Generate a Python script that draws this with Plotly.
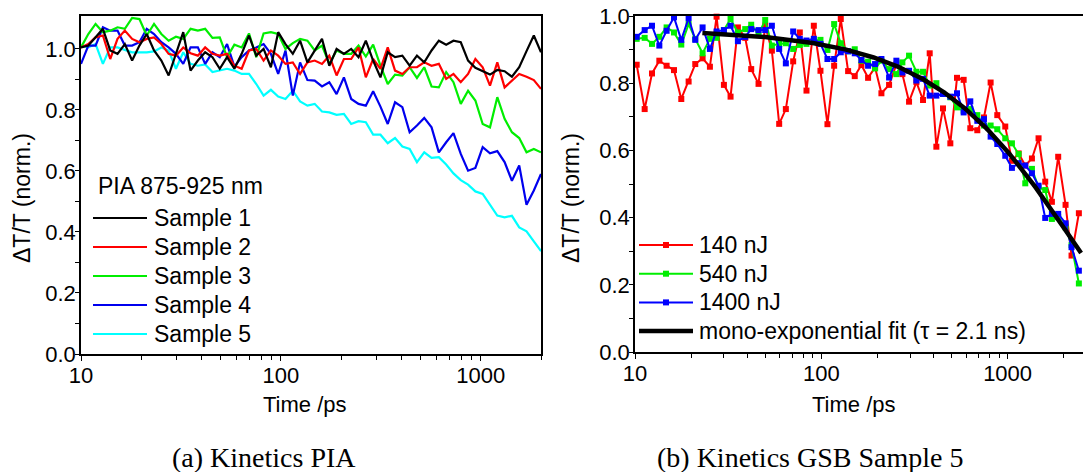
import numpy as np
import plotly.graph_objects as go

# ---------------- Panel (a): PIA kinetics, 875-925 nm ----------------
time_pia = [10.0, 10.88, 11.83, 12.87, 14.00, 15.23, 16.57, 18.02, 19.60, 21.32,
            23.19, 25.23, 27.44, 29.85, 32.47, 35.32, 38.42, 41.79, 45.46, 49.45,
            53.79, 58.51, 63.64, 69.23, 75.30, 81.91, 89.10, 96.9, 105.4, 114.7,
            124.7, 135.7, 147.6, 160.5, 174.6, 189.9, 206.6, 224.7, 244.5, 265.9,
            289.3, 314.7, 342.3, 372.3, 405.0, 440.5, 479.2, 521.2, 567.0, 616.7,
            670.9, 729.8, 793.8, 863.5, 939.3, 1021.8, 1111.4, 1209.0, 1315.1, 1430.6,
            1556.2, 1692.8, 1841.4, 2000.0]

sample1 = [1.005, 1.011, 1.038, 1.066, 0.995, 0.984, 1.016, 0.962, 1.011, 1.049,
           0.995, 0.962, 0.913, 0.984, 1.055, 0.929, 0.962, 0.989, 0.973, 0.935,
           0.973, 0.935, 0.984, 1.044, 0.978, 1.000, 0.940, 1.055, 1.016, 0.984,
           1.027, 0.956, 0.995, 1.033, 0.945, 1.000, 0.984, 1.000, 0.973, 1.027,
           0.962, 0.907, 0.989, 0.973, 0.978, 0.945, 0.978, 0.956, 0.995, 1.027,
           1.014, 1.027, 1.022, 0.962, 0.938, 0.927, 0.916, 0.931, 0.927, 0.909,
           0.940, 0.993, 1.044, 0.989]

sample2 = [1.005, 1.016, 1.038, 1.044, 0.967, 1.033, 1.060, 1.033, 1.022, 1.033,
           1.038, 1.016, 0.984, 0.978, 1.005, 0.986, 0.978, 1.005, 0.984, 0.978,
           0.984, 0.945, 0.935, 0.995, 1.000, 0.962, 0.995, 0.978, 0.951, 0.956,
           0.918, 0.956, 0.962, 0.951, 0.978, 0.913, 0.967, 0.967, 1.005, 0.907,
           0.967, 0.935, 1.005, 0.929, 0.918, 0.940, 0.940, 0.956, 0.945, 0.951,
           0.902, 0.918, 0.891, 0.918, 0.967, 0.940, 0.880, 0.956, 0.874, 0.896,
           0.918, 0.909, 0.898, 0.869]

sample3 = [1.005, 1.049, 1.082, 1.055, 1.060, 1.071, 1.066, 1.102, 1.098, 1.044,
           1.082, 1.049, 1.027, 1.040, 1.033, 1.066, 1.060, 1.066, 1.036, 1.038,
           0.973, 1.014, 1.005, 1.051, 0.973, 1.051, 1.055, 1.049, 1.000, 1.019,
           1.033, 1.027, 0.995, 1.011, 0.951, 0.995, 0.984, 0.984, 1.011, 0.975,
           1.014, 0.945, 0.885, 0.916, 0.913, 0.940, 0.905, 0.940, 0.877, 0.874,
           0.924, 0.891, 0.820, 0.863, 0.831, 0.754, 0.743, 0.842, 0.771, 0.727,
           0.708, 0.661, 0.672, 0.661]

sample4 = [0.951, 1.011, 1.011, 1.071, 1.060, 1.060, 1.011, 1.011, 1.022, 1.066,
           1.049, 1.022, 1.005, 0.984, 0.951, 1.005, 1.005, 0.951, 0.989, 0.973,
           1.016, 0.942, 0.973, 0.995, 1.005, 1.016, 0.984, 0.918, 0.995, 0.847,
           0.956, 0.898, 0.896, 0.877, 0.891, 0.852, 0.907, 0.836, 0.820, 0.814,
           0.861, 0.811, 0.754, 0.825, 0.809, 0.727, 0.749, 0.774, 0.743, 0.661,
           0.694, 0.724, 0.656, 0.601, 0.610, 0.678, 0.658, 0.665, 0.629, 0.568,
           0.618, 0.489, 0.536, 0.590]

sample5 = [1.011, 1.005, 1.016, 0.951, 1.005, 1.005, 0.997, 0.989, 0.989, 0.989,
           0.992, 1.005, 0.995, 0.935, 0.989, 0.951, 0.945, 0.949, 0.924, 0.929,
           0.935, 0.929, 0.918, 0.918, 0.885, 0.847, 0.866, 0.844, 0.836, 0.863,
           0.828, 0.814, 0.820, 0.795, 0.792, 0.784, 0.787, 0.754, 0.763, 0.760,
           0.719, 0.719, 0.691, 0.708, 0.680, 0.672, 0.629, 0.661, 0.643, 0.645,
           0.621, 0.592, 0.570, 0.555, 0.533, 0.525, 0.490, 0.454, 0.448, 0.453,
           0.415, 0.402, 0.369, 0.337]

pia_names = ["Sample 1", "Sample 2", "Sample 3", "Sample 4", "Sample 5"]
pia_colors = ["#000000", "#ff0000", "#00ee00", "#0000ee", "#00ffff"]

# ---------------- Panel (b): GSB kinetics of sample 5 ----------------
time_gsb = [10.21, 11.27, 12.34, 13.51, 14.78, 16.19, 17.72, 19.40, 21.06, 23.06,
            25.24, 27.41, 30.01, 32.58, 35.67, 39.05, 42.05, 46.04, 49.99, 54.29,
            59.42, 64.52, 70.63, 76.68, 83.27, 91.17, 98.97, 107.9, 117.2, 127.2,
            139.3, 151.2, 164.2, 178.3, 194.4, 210.2, 231.1, 252.9, 272.4, 295.8,
            323.9, 351.6, 381.8, 414.6, 450.1, 492.7, 535.0, 580.9, 630.6, 687.7,
            746.7, 810.7, 880.3, 971.6, 1055, 1146, 1244, 1351, 1466, 1592,
            1729, 1869, 2047, 2204, 2413]

gsb_140 = [0.855, 0.723, 0.829, 0.867, 0.852, 0.839, 0.753, 0.805, 0.857, 0.874,
           0.849, 0.998, 0.795, 0.760, 0.966, 0.935, 0.842, 0.798, 0.971, 0.897,
           0.679, 0.723, 0.865, 0.951, 0.778, 0.971, 0.837, 0.678, 0.852, 0.991,
           0.836, 0.821, 0.854, 0.816, 0.847, 0.770, 0.795, 0.856, 0.827, 0.745,
           0.803, 0.750, 0.889, 0.611, 0.725, 0.621, 0.816, 0.810, 0.666, 0.660,
           0.698, 0.802, 0.705, 0.671, 0.569, 0.591, 0.555, 0.576, 0.636, 0.507,
           0.447, 0.581, 0.438, 0.287, 0.413]

gsb_540 = [0.932, 0.935, 0.917, 0.938, 0.966, 0.951, 0.915, 0.976, 0.932, 0.889,
           0.932, 0.935, 0.958, 0.991, 0.951, 0.961, 0.974, 0.946, 0.988, 0.912,
           0.917, 0.919, 0.902, 0.914, 0.917, 0.927, 0.929, 0.899, 0.976, 0.919,
           0.895, 0.901, 0.867, 0.864, 0.844, 0.867, 0.842, 0.827, 0.862, 0.882,
           0.834, 0.834, 0.793, 0.800, 0.768, 0.758, 0.728, 0.718, 0.723, 0.705,
           0.674, 0.674, 0.663, 0.636, 0.621, 0.589, 0.502, 0.545, 0.490, 0.482,
           0.396, 0.401, 0.371, 0.318, 0.204]

gsb_1400 = [0.938, 0.958, 0.971, 0.912, 0.956, 0.996, 0.929, 0.994, 0.929, 0.966,
            0.902, 0.954, 0.958, 0.971, 0.925, 0.938, 0.961, 0.958, 0.958, 0.971,
            0.902, 0.859, 0.954, 0.932, 0.927, 0.932, 0.917, 0.872, 0.872, 0.892,
            0.895, 0.889, 0.869, 0.852, 0.857, 0.872, 0.817, 0.867, 0.832, 0.837,
            0.808, 0.813, 0.763, 0.763, 0.768, 0.760, 0.770, 0.713, 0.746, 0.688,
            0.693, 0.641, 0.619, 0.584, 0.548, 0.562, 0.555, 0.532, 0.495, 0.399,
            0.411, 0.411, 0.383, 0.312, 0.242]

gsb_names = ["140 nJ", "540 nJ", "1400 nJ"]
gsb_colors = ["#ff0000", "#00ee00", "#0000ff"]

# mono-exponential fit parameters
fit_amplitude = 0.96
fit_tau_ps = 2100.0
fit_start_ps = 23.0
fit_end_ps = 2480.0
fit_label = "mono-exponential fit (\u03c4 = 2.1 ns)"

# axis ticks
major_x = [10, 100, 1000]
minor_x = [20, 30, 40, 50, 60, 70, 80, 90, 200, 300, 400, 500, 600, 700, 800, 900, 2000]
major_y = [0.0, 0.2, 0.4, 0.6, 0.8, 1.0]
minor_y = [0.1, 0.3, 0.5, 0.7, 0.9]

W, H = 1083, 472
SANS = "Liberation Sans, Arial, sans-serif"
SERIF = "Liberation Serif, Times New Roman, serif"


def px(x):
    return x / W


def py(y):
    return 1 - y / H


fig = go.Figure()

# panel (a) curves (sample 1 drawn last, on top)
pia_series = [sample1, sample2, sample3, sample4, sample5]
for name, vals, col in reversed(list(zip(pia_names, pia_series, pia_colors))):
    fig.add_trace(go.Scatter(x=time_pia, y=vals, mode="lines", name=name,
                             line=dict(color=col, width=2.2),
                             xaxis="x", yaxis="y", showlegend=False))

# panel (b) curves
for name, vals, col in zip(gsb_names, [gsb_140, gsb_540, gsb_1400], gsb_colors):
    fig.add_trace(go.Scatter(x=time_gsb, y=vals, mode="lines+markers", name=name,
                             line=dict(color=col, width=2),
                             marker=dict(symbol="square", size=6, color=col),
                             cliponaxis=False,
                             xaxis="x2", yaxis="y2", showlegend=False))

fit_t = np.geomspace(fit_start_ps, fit_end_ps, 200)
fit_y = fit_amplitude * np.exp(-fit_t / fit_tau_ps)
fig.add_trace(go.Scatter(x=fit_t, y=fit_y, mode="lines", name=fit_label,
                         line=dict(color="#000000", width=4.5),
                         xaxis="x2", yaxis="y2", showlegend=False))

tick_font = dict(family=SANS, size=22, color="#000000")


def xaxis_cfg(domain, rng, anchor):
    return dict(domain=domain, type="log", range=rng, anchor=anchor,
                automargin=False,
                showline=True, linecolor="#000000", linewidth=1.6, mirror=True,
                ticks="outside", ticklen=5, tickwidth=1.4, tickcolor="#000000",
                ticklabelstandoff=-4,
                tickvals=major_x, ticktext=[str(v) for v in major_x],
                tickfont=tick_font, showgrid=False, zeroline=False,
                minor=dict(tickvals=minor_x, ticks="outside", ticklen=4,
                           tickwidth=1.2, tickcolor="#000000", showgrid=False))


def yaxis_cfg(domain, rng, anchor, mirror):
    return dict(domain=domain, range=rng, anchor=anchor,
                automargin=False,
                showline=True, linecolor="#000000", linewidth=1.6, mirror=mirror,
                ticks="outside", ticklen=4, tickwidth=1.4, tickcolor="#000000",
                ticklabelstandoff=-5,
                tickvals=major_y, ticktext=[f"{v:.1f}" for v in major_y],
                tickfont=tick_font, showgrid=False, zeroline=False,
                minor=dict(tickvals=minor_y, ticks="outside", ticklen=4,
                           tickwidth=1.2, tickcolor="#000000", showgrid=False))


fig.update_layout(
    width=W, height=H,
    margin=dict(l=0, r=0, t=0, b=0, autoexpand=False),
    paper_bgcolor="#ffffff", plot_bgcolor="#ffffff",
    showlegend=False,
    xaxis=xaxis_cfg([px(81), px(541)], [1, np.log10(2000)], "y"),
    yaxis=yaxis_cfg([py(354), py(16)], [0, 1.108], "x", True),
    xaxis2=xaxis_cfg([px(635), 1.0], [1, 1 + (1083 - 635) / 186.3], "y2"),
    yaxis2=yaxis_cfg([py(352), py(16)], [0, 1.0], "x2", False),
)

annotations = []
shapes = []


def text(x, y, s, size=22, family=SANS, xanchor="center", angle=0):
    annotations.append(dict(x=px(x), y=py(y), xref="paper", yref="paper", text=s,
                            showarrow=False, xanchor=xanchor, yanchor="middle",
                            textangle=angle,
                            font=dict(family=family, size=size, color="#000000")))


# axis titles
text(305, 404, "Time /ps")
text(854, 404, "Time /ps")
text(22, 198, "\u0394T/T (norm.)", size=23, angle=-90)
text(571, 198, "\u0394T/T (norm.)", size=23, angle=-90)

# captions
text(264, 457, "(a) Kinetics PIA", size=28, family=SERIF)
text(810, 457, "(b) Kinetics GSB Sample 5", size=28, family=SERIF)

# legend of panel (a)
text(96, 186, "PIA 875-925 nm", size=23, xanchor="left")
for k, (name, col) in enumerate(zip(pia_names, pia_colors)):
    yy = 218 + 29 * k
    shapes.append(dict(type="line", xref="paper", yref="paper",
                       x0=px(93), x1=px(147), y0=py(yy), y1=py(yy),
                       line=dict(color=col, width=2.2)))
    text(152, yy, name, size=23, xanchor="left")

# legend of panel (b)
for k, (name, col) in enumerate(zip(gsb_names, gsb_colors)):
    yy = 245 + 28.7 * k
    shapes.append(dict(type="line", xref="paper", yref="paper",
                       x0=px(639), x1=px(693), y0=py(yy), y1=py(yy),
                       line=dict(color=col, width=2)))
    shapes.append(dict(type="rect", xref="paper", yref="paper",
                       x0=px(663), x1=px(669), y0=py(yy + 3), y1=py(yy - 3),
                       fillcolor=col, line=dict(width=0)))
    text(697, yy, name, size=23, xanchor="left")
yy = 245 + 28.7 * 3
shapes.append(dict(type="line", xref="paper", yref="paper",
                   x0=px(639), x1=px(693), y0=py(yy), y1=py(yy),
                   line=dict(color="#000000", width=4.5)))
text(697, yy, fit_label, size=23, xanchor="left")

fig.update_layout(annotations=annotations, shapes=shapes)
fig.write_html("out.html")
